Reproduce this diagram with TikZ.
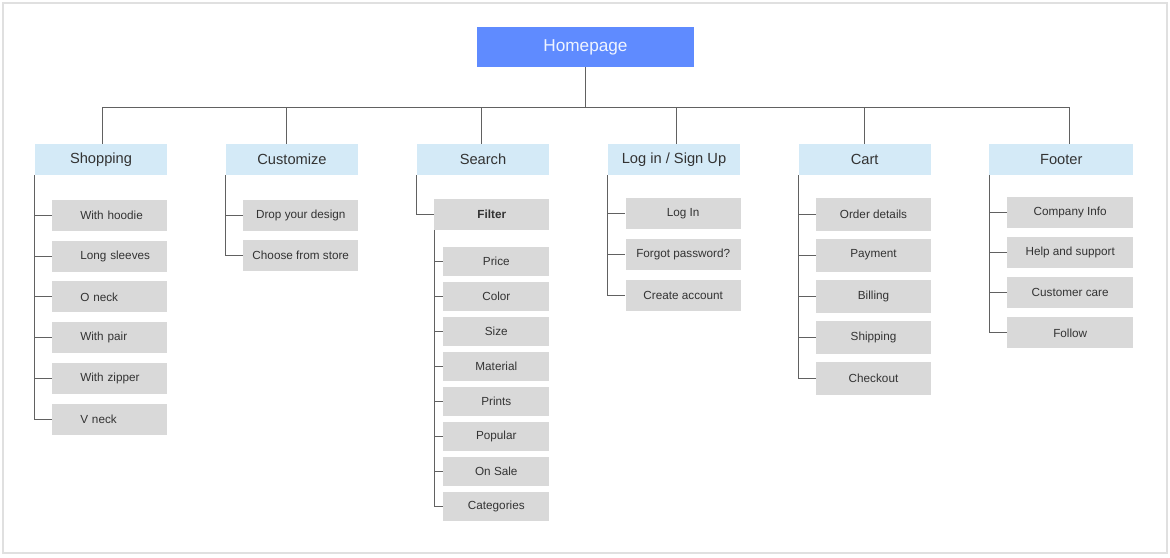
\documentclass[tikz,border=0pt]{standalone}
\usepackage{fontspec}
\setmainfont{Liberation Sans}

\definecolor{homeblue}{HTML}{5F8BFF}
\definecolor{headblue}{HTML}{D4EAF7}
\definecolor{leafgray}{HTML}{D9D9D9}
\definecolor{inkgray}{HTML}{333333}

\tikzset{
  home/.style={fill=homeblue, text=white!90!homeblue, minimum width=162.75pt,
    minimum height=30pt, inner sep=0pt, font=\fontsize{12.9}{15}\selectfont},
  head/.style={fill=headblue, text=inkgray, minimum width=99pt,
    minimum height=23.25pt, inner sep=0pt, font=\fontsize{11}{13}\selectfont},
  leaf/.style={fill=leafgray, text=inkgray, minimum width=86.25pt,
    minimum height=23.25pt, inner sep=0pt, font=\fontsize{8.8}{10}\selectfont},
  shopleaf/.style={leaf, text width=86.25pt, align=left,
    execute at begin node={\hspace*{21pt}}},
  smallleaf/.style={leaf, minimum width=79.5pt, minimum height=21.75pt},
  link/.style={draw=black!62, line width=0.75pt},
}

\begin{document}
\begin{tikzpicture}[x=0.75pt, y=-0.75pt]
\useasboundingbox (0,0) rectangle (1170,557);
\draw[black!12, line width=1.5pt] (2.5,3) rectangle (1167,553);

% top level
\node[home] (home) at (585.5,47) {Homepage};

\node[head] (shop)  at (101,159.5)   {Shopping};
\node[head] (cust)  at (292,159.5)   {Customize};
\node[head] (srch)  at (483,159.5)   {Search};
\node[head] (login) at (674,159.5)   {Log in / Sign Up};
\node[head] (cart)  at (864.7,159.5) {Cart};
\node[head, minimum width=108pt] (foot) at (1061.3,159.5) {Footer};

\foreach \n/\d in {shop/1, cust/-6, srch/-2, login/2, cart/0, foot/8}
  \draw[link] (home.south) -- ++(0,40) -| ([xshift=\d*0.75pt]\n.north);

% Shopping
\foreach \t [count=\i] in {With hoodie, Long sleeves, O neck, With pair, With zipper, V neck}
  \node[shopleaf] (shop\i) at (109.75,{215.5+40.7*(\i-1)}) {\t};
\foreach \i in {1,...,6}
  \draw[link] (shop.south west) |- (shop\i.west);

% Customize
\foreach \t [count=\i] in {Drop your design, Choose from store}
  \node[leaf] (cust\i) at (300.75,{215+40.7*(\i-1)}) {\t};
\foreach \i in {1,2}
  \draw[link] (cust.south west) |- (cust\i.west);

% Search
\node[leaf, font=\fontsize{8.8}{10}\selectfont\bfseries] (filter) at (491.8,214.5) {Filter};
\draw[link] (srch.south west) |- (filter.west);
\foreach \t [count=\i] in {Price, Color, Size, Material, Prints, Popular, On Sale, Categories}
  \node[smallleaf] (filt\i) at (496.3,{261+35*(\i-1)}) {\t};
\foreach \i in {1,...,8}
  \draw[link] (filter.south west) |- (filt\i.west);

% Log in
\foreach \t [count=\i] in {Log In, Forgot password?, Create account}
  \node[leaf] (login\i) at (683.2,{213.5+41*(\i-1)}) {\t};
\foreach \i in {1,2,3}
  \draw[link] (login.south west) |- (login\i.west);

% Cart
\foreach \t [count=\i] in {Order details, Payment, Billing, Shipping, Checkout}
  \node[leaf, minimum height=24.75pt] (cart\i) at (873.5,{214+41*(\i-1)}) {\t};
\foreach \i in {1,...,5}
  \draw[link] (cart.south west) |- (cart\i.west);

% Footer
\foreach \t [count=\i] in {Company Info, Help and support, Customer care, Follow}
  \node[leaf, minimum width=94.7pt] (foot\i) at (1070.2,{212+40.3*(\i-1)}) {\t};
\foreach \i in {1,...,4}
  \draw[link] (foot.south west) |- (foot\i.west);
\end{tikzpicture}
\end{document}
